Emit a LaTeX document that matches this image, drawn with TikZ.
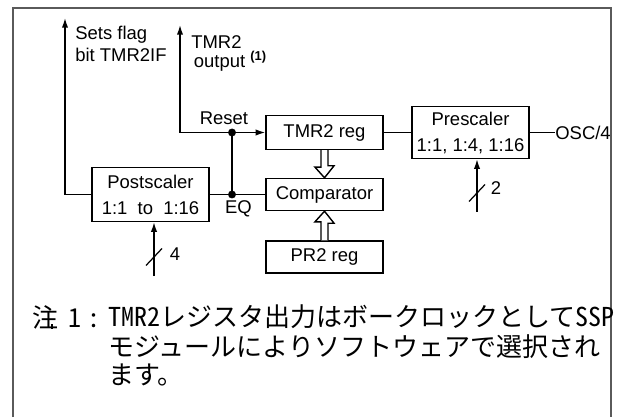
\documentclass[tikz,border=0pt]{standalone}
\usepackage{fontspec}
\setmainfont{Liberation Sans}
\newfontfamily\jpfont{Noto Sans CJK JP}
\newfontfamily\jphalf{Noto Sans CJK JP}[RawFeature=+hwid]
\usetikzlibrary{positioning,arrows.meta,calc}
\definecolor{framegray}{HTML}{5A5A5A}

\begin{document}
\begin{tikzpicture}[font=\fontsize{10.5}{12.4}\selectfont,>={Latex[length=5.5pt,width=3.6pt]},
  blockbox/.style={draw,line width=.8pt,minimum width=2.34cm,minimum height=.64cm,align=center,inner sep=1pt,font=\fontsize{10.5}{14.8}\selectfont},
  wire/.style={line width=.8pt},
  dot/.style={circle,fill,inner sep=0pt,minimum size=4.5pt},
  busmark/.style={line width=.7pt},
  note/.style={anchor=west,inner sep=0pt,font=\jpfont\fontsize{14.8}{16}\selectfont}]
\useasboundingbox (0,0) rectangle (12.42,8.34);
% frame, open at the bottom
\draw[framegray,line width=1.1pt] (.26,0) -- (.26,8.18) -- (12.22,8.18) -- (12.22,0);
% Timer2 blocks
\node[blockbox,minimum height=.68cm] (tmr) at (6.49,5.69) {TMR2 reg};
\node[blockbox] (comp) at (6.49,4.45) {Comparator};
\node[blockbox] (pr) at (6.49,3.20) {PR2 reg};
\node[blockbox,minimum height=1.04cm] (pre) at (9.41,5.69) {Prescaler\\1:1, 1:4, 1:16};
\node[blockbox,minimum height=1.08cm] (post) at (3.01,4.45) {Postscaler\\1:1~~to~~1:16};
\node[anchor=west,inner sep=0pt] (osc) at (11.10,5.69) {OSC/4};
\coordinate (flag) at (1.30,7.98);
\coordinate (out) at (3.60,7.84);
\coordinate (rst) at (4.64,5.69);
\coordinate (eq) at (4.64,4.45);
\coordinate (prein) at (9.54,4.10);
\coordinate (postin) at (3.08,2.82);
% wires
\draw[wire] (tmr.east) -- (pre.west);
\draw[wire] (pre.east) -- (osc.west);
\draw[wire,<->] (out) |- (tmr.west);
\draw[wire] (rst) -- (eq);
\draw[wire] (post.east) -- (comp.west);
\draw[wire,->] (post.west) -| (flag);
\draw[wire,->] (prein) -- (prein |- pre.south);
\draw[wire,->] (postin) -- (postin |- post.south);
\node[dot] (rstdot) at (rst) {};
\node[dot] (eqdot) at (eq) {};
\draw[busmark] ($(prein)+(-.16,.21)$) -- ($(prein)+(.16,.55)$);
\draw[busmark] ($(postin)+(-.16,.21)$) -- ($(postin)+(.16,.55)$);
% hollow bus arrows into the comparator
\draw[wire,fill=white] ($(tmr.south)+(-.07,0)$) -- ++(0,-.34) -- ++(-.12,0) -- (comp.north) -- ($(comp.north)+(.19,.24)$) -- ++(-.12,0) -- ($(tmr.south)+(.07,0)$);
\draw[wire,fill=white] ($(pr.north)+(-.07,0)$) -- ++(0,.37) -- ++(-.12,0) -- (comp.south) -- ($(comp.south)+(.19,-.24)$) -- ++(-.12,0) -- ($(pr.north)+(.07,0)$);
% labels
\node[anchor=west,align=left,inner sep=0pt] (flaglbl) at (1.50,7.46) {Sets flag\\bit TMR2IF};
\node[anchor=base west,inner sep=0pt] (outlbl) at (3.82,7.37) {TMR2};
\node[anchor=base west,inner sep=0pt] (outlbltwo) at (3.87,6.99) {output \textsuperscript{\bfseries(1)}};
\node (rstlbl) at (4.48,5.98) {Reset};
\node (eqlbl) at (4.77,4.16) {EQ};
\node (twolbl) at (9.92,4.58) {2};
\node (fourlbl) at (3.50,3.26) {4};
% note
\node[note] (notehead) at (.64,2.00) {注\hspace{6pt}{\jphalf 1\hspace{3pt}:}};
\draw[line width=1.2pt] (1.04,1.86) -- (1.04,1.76);
\node[note] (noteone) at (2.16,2.00) {{\jphalf TMR2}レジスタ出力はボークロックとして{\jphalf SSP}};
\node[note] (notetwo) at (2.16,1.40) {モジュールによりソフトウェアで選択され};
\node[note] (notethree) at (2.16,.84) {ます。};
\end{tikzpicture}
\end{document}
